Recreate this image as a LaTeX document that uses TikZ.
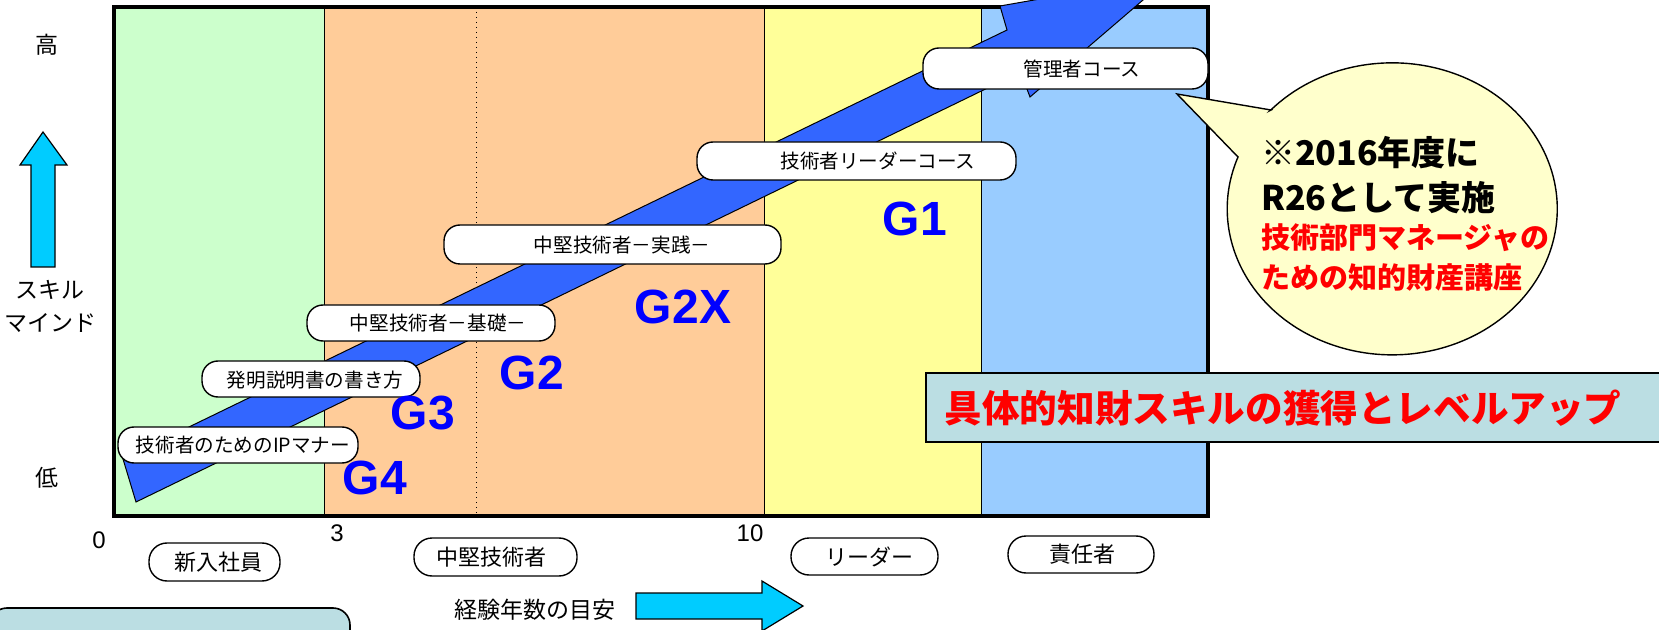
\documentclass[tikz,border=0pt]{standalone}
\usepackage{fontspec}
\setmainfont{Noto Sans CJK JP}
\newfontfamily\arialfont{Liberation Sans}

\definecolor{newgreen}{HTML}{CCFFCC}
\definecolor{midorange}{HTML}{FFCC99}
\definecolor{leadyellow}{HTML}{FFFF99}
\definecolor{chiefblue}{HTML}{99CCFF}
\definecolor{bandblue}{HTML}{3366FF}
\definecolor{gradeblue}{HTML}{0000FF}
\definecolor{arrowcyan}{HTML}{00CCFF}
\definecolor{panelcyan}{HTML}{BBDEE3}
\definecolor{bubbleyellow}{HTML}{FFFFCC}

\tikzset{
  pill/.style={draw,fill=white,line width=0.7pt,rounded corners=8pt,inner sep=0pt},
  coursetext/.style={font=\fontsize{9.8}{12}\selectfont},
  roletext/.style={font=\fontsize{11}{13}\selectfont},
  sidetext/.style={font=\fontsize{11.5}{14}\selectfont},
  grade/.style={text=gradeblue,font=\arialfont\bfseries\fontsize{24}{28}\selectfont},
  yeartext/.style={font=\arialfont\fontsize{12}{14}\selectfont},
  blockarrow/.style={draw,fill=arrowcyan,line width=0.6pt},
}

\begin{document}
\begin{tikzpicture}[x=0.5pt,y=-0.5pt]
  \useasboundingbox (0,0) rectangle (1659,630);
  \clip (0,0) rectangle (1659,630);

  % columns
  \fill[newgreen] (114,7) rectangle (324,516);
  \fill[midorange] (324,7) rectangle (764,516);
  \fill[leadyellow] (764,7) rectangle (981,516);
  \fill[chiefblue] (981,7) rectangle (1208,516);
  \draw[line width=0.5pt] (324,7) -- (324,516);
  \draw[line width=0.5pt] (764,7) -- (764,516);
  \draw[line width=0.5pt] (981,7) -- (981,516);
  \draw[dotted,line width=0.5pt] (476,7) -- (476,516);
  \draw[line width=2pt] (114,7) rectangle (1208,516);

  % growth arrow
  \draw[fill=bandblue,line width=0.5pt] (136,502) -- (123,459) -- (1007,30) -- (1000,6)
    -- (1171,-24) -- (1030,97) -- (1020.5,72) -- cycle;

  % courses
  \node[pill,minimum width=120pt,minimum height=18pt] (ipmanner) at (238,445) {};
  \node[coursetext] (ipmannertxt) at (243,445) {技術者のためのIPマナー};
  \node[pill,minimum width=109pt,minimum height=18pt] (spec) at (311,379) {};
  \node[coursetext] (spectxt) at (315,380) {発明説明書の書き方};
  \node[pill,minimum width=124pt,minimum height=18pt] (basic) at (431,323) {};
  \node[coursetext] (basictxt) at (438,323) {中堅技術者－基礎－};
  \node[pill,minimum width=168.5pt,minimum height=19.5pt] (practice) at (612.5,244.5) {};
  \node[coursetext] (practicetxt) at (622,245) {中堅技術者－実践－};
  \node[pill,minimum width=159.5pt,minimum height=19pt] (leader) at (856.5,161) {};
  \node[coursetext] (leadertxt) at (878,161) {技術者リーダーコース};
  \node[pill,minimum width=142.5pt,minimum height=20.5pt] (manager) at (1065.5,68.5) {};
  \node[coursetext] (managertxt) at (1082,69) {管理者コース};

  % grades
  \node[grade] (g4) at (375,478) {G4};
  \node[grade] (g3) at (423,413) {G3};
  \node[grade] (g2) at (532,373) {G2};
  \node[grade] (g2x) at (683,307) {G2X};
  \node[grade] (g1) at (915,219) {G1};

  % banner
  \node[draw,fill=panelcyan,line width=0.8pt,anchor=west,minimum width=372pt,
    minimum height=34.5pt] (skillbar) at (925,407.5) {};
  \node[text=red,font=\bfseries\fontsize{18.8}{22}\selectfont] (skilltxt) at (1283,408)
    {具体的知財スキルの獲得とレベルアップ};

  % note bubble
  \draw[fill=bubbleyellow,line width=0.7pt] (1271,110) -- (1177,94) -- (1238,157)
    arc[start angle=200.8, end angle=-137.5, x radius=165, y radius=146] -- cycle;
  \node[anchor=west,font=\bfseries\fontsize{17}{20}\selectfont] (note1) at (1254,153) {※2016年度に};
  \node[anchor=west,font=\bfseries\fontsize{17}{20}\selectfont] (note2) at (1254,198) {R26として実施};
  \node[anchor=west,text=red,font=\bfseries\fontsize{14.5}{17}\selectfont] (note3) at (1254,238) {技術部門マネージャの};
  \node[anchor=west,text=red,font=\bfseries\fontsize{14.5}{17}\selectfont] (note4) at (1254,277) {ための知的財産講座};

  % skill axis
  \node[sidetext] (high) at (47,45) {高};
  \draw[blockarrow] (31,267) -- (31,165) -- (20,165) -- (43,132) -- (67,165) -- (55,165) -- (55,267) -- cycle;
  \node[sidetext] (skill) at (50,290) {スキル};
  \node[sidetext] (mind) at (50,323) {マインド};
  \node[sidetext] (low) at (47,478) {低};

  % year axis
  \node[yeartext] (y0) at (99,540) {0};
  \node[yeartext] (y3) at (337,533) {3};
  \node[yeartext] (y10) at (750,533) {10};
  \node[pill,rounded corners=9pt,minimum width=65.5pt,minimum height=19pt] (newhire) at (214.5,562) {};
  \node[roletext] (newhiretxt) at (218,562) {新入社員};
  \node[pill,rounded corners=9pt,minimum width=81.5pt,minimum height=19pt] (midlevel) at (495.5,557) {};
  \node[roletext] (midleveltxt) at (491,557) {中堅技術者};
  \node[pill,rounded corners=9pt,minimum width=73.5pt,minimum height=18.5pt] (leaderrole) at (864.5,556.5) {};
  \node[roletext] (leaderroletxt) at (869,556.5) {リーダー};
  \node[pill,rounded corners=9pt,minimum width=73pt,minimum height=18.5pt] (chief) at (1081,554.5) {};
  \node[roletext] (chieftxt) at (1082,554.5) {責任者};
  \node[sidetext] (years) at (535,610) {経験年数の目安};
  \draw[blockarrow] (636,593) -- (762,593) -- (762,581) -- (803,606) -- (762,631) -- (762,619) -- (636,619) -- cycle;

  % lower panel
  \draw[fill=panelcyan,line width=0.8pt,rounded corners=8.5pt] (-10,608) rectangle (350,680);
\end{tikzpicture}
\end{document}
